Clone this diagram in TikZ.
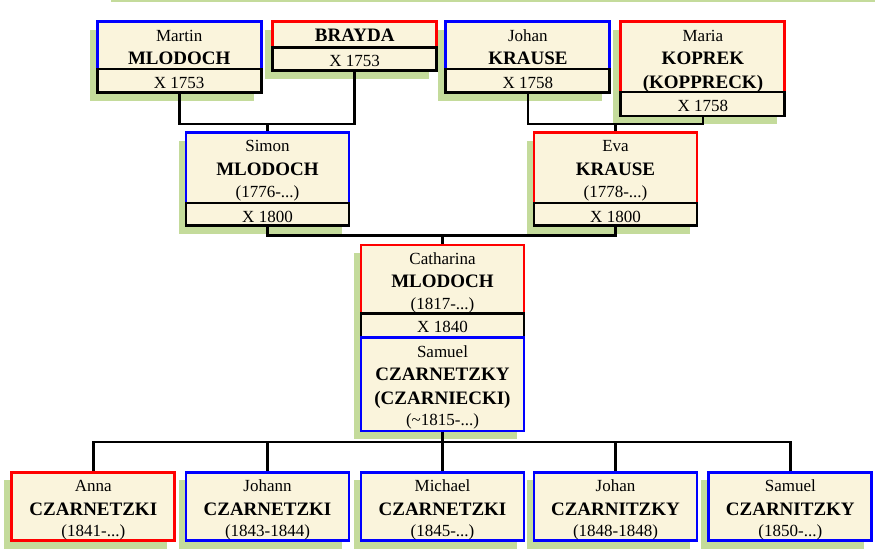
\documentclass[tikz,border=0pt]{standalone}
\usepackage{fontspec}
\setmainfont{Liberation Serif}
\usetikzlibrary{backgrounds}
\definecolor{cream}{RGB}{250,244,220}
\definecolor{leaf}{RGB}{196,219,155}
\newcommand\bn[1]{{\bfseries\fontsize{19}{23.5}\selectfont #1}}
% #1 name, #2 centre x, #3 top, #4 bottom, #5 width, #6 border colour, #7 text
\newcommand\famsec[7]{%
  \pgfmathsetmacro\famh{#4-#3}%
  \node[sect, draw=#6, minimum width=#5pt, minimum height=\famh pt] (#1) at (#2,{(#3+#4)/2}) {};
  \node[txt] (#1-t) at ([yshift=-5.3pt]#1.north) {\rule{0pt}{14pt}#7};
}
\begin{document}
\begin{tikzpicture}[x=1pt,y=-1pt,
  sect/.style={rectangle, fill=cream, line width=2.9pt, inner sep=0pt, outer sep=0pt},
  txt/.style={anchor=north, inner sep=0pt, outer sep=0pt, align=center, font=\fontsize{17}{23.5}\selectfont},
  conn/.style={line width=2.8pt, black},
  shadowbox/.style={fill=leaf},
  topline/.style={draw=leaf, line width=2pt}]
\useasboundingbox (0,0) rectangle (875,550);
\draw[topline] (111,1) -- (875,1);

% generation 1
\famsec{martin}{179.2}{21.7}{69}{164}{blue}{Martin\\\bn{MLODOCH}}
\famsec{martinD}{179.2}{69}{92.7}{164}{black}{X 1753}
\famsec{brayda}{354.7}{21.7}{47.3}{164}{red}{\bn{BRAYDA}}
\famsec{braydaD}{354.7}{47.3}{70.7}{164}{black}{X 1753}
\famsec{johan}{527.9}{21.7}{69}{164}{blue}{Johan\\\bn{KRAUSE}}
\famsec{johanD}{527.9}{69}{92.7}{164}{black}{X 1758}
\famsec{maria}{702.9}{21.7}{92}{164}{red}{Maria\\\bn{KOPREK}\\\bn{(KOPPRECK)}}
\famsec{mariaD}{702.9}{92}{116}{164}{black}{X 1758}

% generation 2
\famsec{simon}{267.5}{132.5}{203}{163}{blue}{Simon\\\bn{MLODOCH}\\[-1.8pt](1776-...)}
\famsec{simonD}{267.5}{203}{225.7}{163}{black}{X 1800}
\famsec{eva}{615.5}{132.5}{203}{163}{red}{Eva\\\bn{KRAUSE}\\[-1.8pt](1778-...)}
\famsec{evaD}{615.5}{203}{225.7}{163}{black}{X 1800}

% generation 3
\famsec{cath}{442.5}{245}{313.3}{163}{red}{Catharina\\\bn{MLODOCH}\\[-1.8pt](1817-...)}
\famsec{cathD}{442.5}{313.3}{337.7}{163}{black}{X 1840}
\famsec{samuel}{442.5}{337.7}{431}{163}{blue}{Samuel\\\bn{CZARNETZKY}\\\bn{(CZARNIECKI)}\\[-1.8pt](\textasciitilde1815-...)}

% children
\famsec{anna}{93.3}{472.3}{540.7}{163}{red}{Anna\\\bn{CZARNETZKI}\\[-1.8pt](1841-...)}
\famsec{johann}{267.5}{472.3}{540.7}{163}{blue}{Johann\\\bn{CZARNETZKI}\\[-1.8pt](1843-1844)}
\famsec{michael}{442.5}{472.3}{540.7}{163}{blue}{Michael\\\bn{CZARNETZKI}\\[-1.8pt](1845-...)}
\famsec{johanc}{615.5}{472.3}{540.7}{163}{blue}{Johan\\\bn{CZARNITZKY}\\[-1.8pt](1848-1848)}
\famsec{samc}{790.3}{472.3}{540.7}{163}{blue}{Samuel\\\bn{CZARNITZKY}\\[-1.8pt](1850-...)}

\coordinate (j1) at (267.5,124);
\coordinate (j2) at (615.5,124);
\coordinate (j3) at (442.5,235.7);
\coordinate (j4) at (442.5,442);

\begin{pgfonlayer}{background}
  \foreach \a/\b in {martin/martinD, brayda/braydaD, johan/johanD, maria/mariaD,
                     simon/simonD, eva/evaD, cath/samuel, anna/anna, johann/johann,
                     michael/michael, johanc/johanc, samc/samc}
    \fill[shadowbox] ([shift={(-7.5pt,-8pt)}]\a.north west) rectangle ([shift={(-7.5pt,-8pt)}]\b.south east);
  \draw[conn] (martinD.south) |- (j1) -| (braydaD.south);
  \draw[conn] (j1) -- (simon.north);
  \draw[conn] (johanD.south) |- (j2) -| (mariaD.south);
  \draw[conn] (j2) -- (eva.north);
  \draw[conn] (simonD.south) |- (j3) -| (evaD.south);
  \draw[conn] (j3) -- (cath.north);
  \draw[conn] (samuel.south) -- (j4);
  \draw[conn] (anna.north) |- (j4) -| (samc.north);
  \draw[conn] (johann.north) -- (johann.north |- j4);
  \draw[conn] (michael.north) -- (michael.north |- j4);
  \draw[conn] (johanc.north) -- (johanc.north |- j4);
\end{pgfonlayer}
\end{tikzpicture}
\end{document}
